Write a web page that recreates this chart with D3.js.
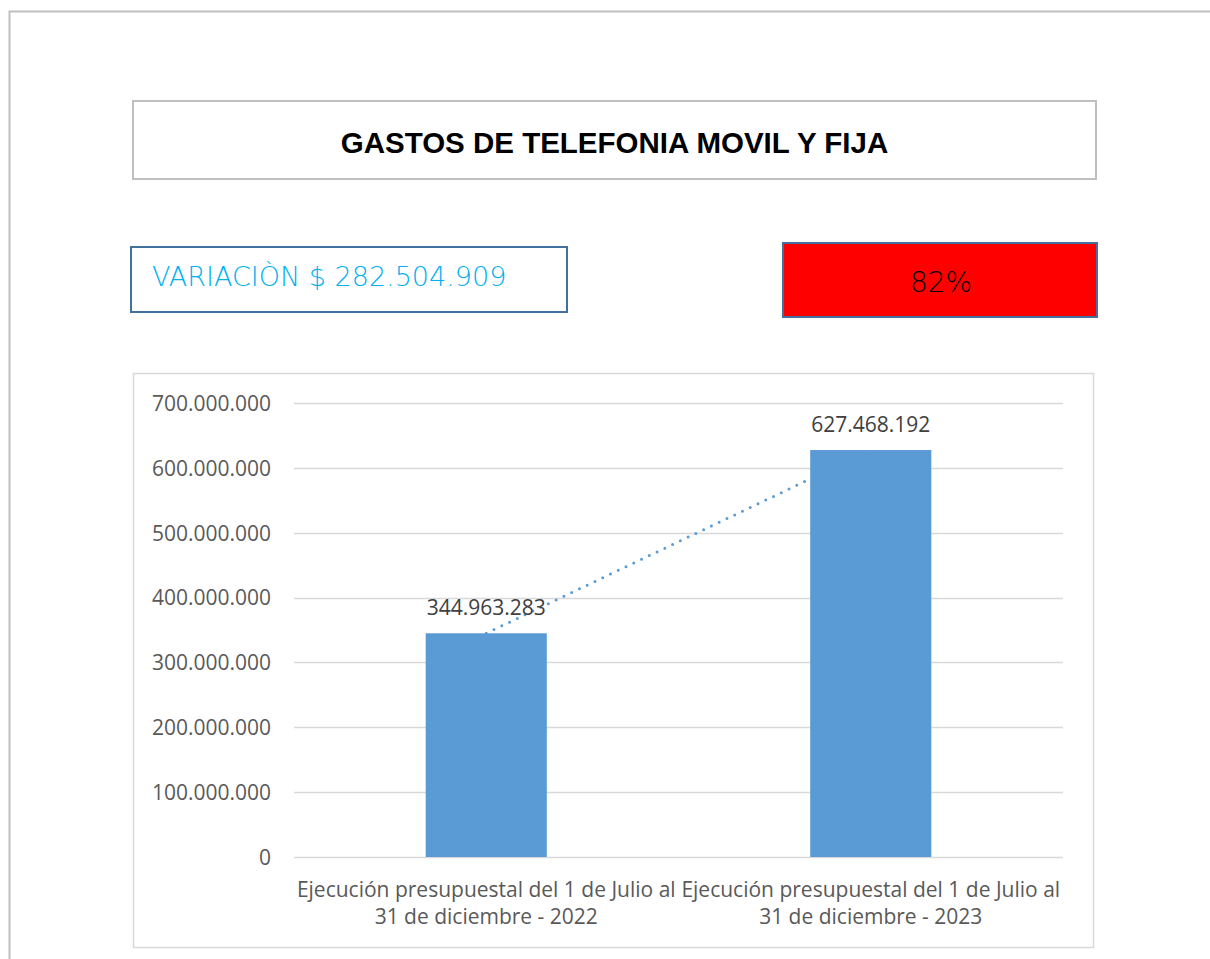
<!DOCTYPE html>
<html><head><meta charset="utf-8">
<script src="https://cdn.jsdelivr.net/npm/d3@7"></script>
<style>html,body{margin:0;padding:0;background:#fff;} svg{display:block;}</style>
</head><body>
<script>
const title = "GASTOS DE TELEFONIA MOVIL Y FIJA";
const variationText = "VARIACIÒN $ 282.504.909";
const percentText = "82%";
const categories = [
  ["Ejecución presupuestal del 1 de Julio al", "31 de diciembre - 2022"],
  ["Ejecución presupuestal del 1 de Julio al", "31 de diciembre - 2023"]
];
const values = [344963283, 627468192];
const yTicks = [0, 100000000, 200000000, 300000000, 400000000, 500000000, 600000000, 700000000];

const W = 1210, H = 959;
const svg = d3.select("body").append("svg").attr("width", W).attr("height", H);
const locale = d3.formatLocale({decimal: ",", thousands: ".", grouping: [3], currency: ["$", ""]});
const fmt = locale.format(",.0f");

// outer frame
svg.append("path").attr("d", `M9.5,${H} V11.5 H${W}`).attr("fill", "none").attr("stroke", "#BFBFBF").attr("stroke-width", 2);

// title box
svg.append("rect").attr("x", 133).attr("y", 101).attr("width", 963).attr("height", 78)
  .attr("fill", "#fff").attr("stroke", "#BFBFBF").attr("stroke-width", 2);
svg.append("text").attr("x", 614.5).attr("y", 153).attr("text-anchor", "middle")
  .attr("font-family", "'Liberation Sans', Arial, sans-serif").attr("font-weight", "bold").attr("font-size", 29.5)
  .attr("fill", "#000").text(title);

// variation box
svg.append("rect").attr("x", 131).attr("y", 247).attr("width", 436).attr("height", 65)
  .attr("fill", "#fff").attr("stroke", "#41719C").attr("stroke-width", 2);
svg.append("text").attr("x", 152).attr("y", 286)
  .attr("font-family", "'DejaVu Sans', sans-serif").attr("font-weight", 200).attr("font-size", 27)
  .attr("fill", "#00B0F0").text(variationText);

// percent box
svg.append("rect").attr("x", 783).attr("y", 243).attr("width", 314).attr("height", 74)
  .attr("fill", "#FF0000").attr("stroke", "#41719C").attr("stroke-width", 2);
svg.append("text").attr("x", 941).attr("y", 292).attr("text-anchor", "middle")
  .attr("font-family", "'DejaVu Sans', sans-serif").attr("font-weight", 200).attr("font-size", 28)
  .attr("fill", "#000").text(percentText);

// chart box
svg.append("rect").attr("x", 133.5).attr("y", 373.5).attr("width", 960).attr("height", 574)
  .attr("fill", "#fff").attr("stroke", "#D9D9D9").attr("stroke-width", 1.5);

const x0 = 294, x1 = 1063, yTop = 403, yBot = 857;
const y = d3.scaleLinear().domain([0, 700000000]).range([yBot, yTop]);
const x = d3.scaleBand().domain(d3.range(categories.length)).range([x0, x1]).paddingInner(0.685).paddingOuter(0.3425);

// gridlines
svg.append("g").selectAll("line").data(yTicks).join("line")
  .attr("x1", x0).attr("x2", x1).attr("y1", d => Math.round(y(d)) + 0.5).attr("y2", d => Math.round(y(d)) + 0.5)
  .attr("stroke", "#D9D9D9").attr("stroke-width", 1.3);

// y axis labels
const yAxis = d3.axisLeft(y).tickValues(yTicks).tickFormat(fmt).tickSize(0).tickPadding(0);
const gy = svg.append("g").attr("transform", `translate(271,0)`).call(yAxis);
gy.select(".domain").remove();
gy.selectAll("text").attr("font-family", "'Open Sans', sans-serif").attr("font-size", 21).attr("fill", "#595959").attr("dy", "0.35em");

// trendline (linear through points)
const pts = values.map((v, i) => [x(i) + x.bandwidth() / 2, y(v)]);
svg.append("line").attr("x1", pts[0][0]).attr("y1", pts[0][1]).attr("x2", pts[1][0]).attr("y2", pts[1][1])
  .attr("stroke", "#5B9BD5").attr("stroke-width", 3).attr("stroke-linecap", "round").attr("stroke-dasharray", "0,8.6");

// bars
svg.append("g").selectAll("rect").data(values).join("rect")
  .attr("x", (d, i) => x(i)).attr("width", x.bandwidth())
  .attr("y", d => y(d)).attr("height", d => y(0) - y(d)).attr("fill", "#5B9BD5");

// data labels
svg.append("g").selectAll("text").data(values).join("text")
  .attr("x", (d, i) => x(i) + x.bandwidth() / 2).attr("y", d => y(d) - 18)
  .attr("text-anchor", "middle").attr("font-family", "'Open Sans', sans-serif").attr("font-size", 21)
  .attr("fill", "#404040").text(d => fmt(d));

// category labels
const cat = svg.append("g").selectAll("text").data(categories).join("text")
  .attr("text-anchor", "middle").attr("font-family", "'Open Sans', sans-serif").attr("font-size", 21)
  .attr("fill", "#595959");
cat.each(function(d, i) {
  const t = d3.select(this);
  d.forEach((line, j) => {
    t.append("tspan").attr("x", x(i) + x.bandwidth() / 2).attr("y", 897 + j * 27).text(line);
  });
});
</script>
</body></html>
